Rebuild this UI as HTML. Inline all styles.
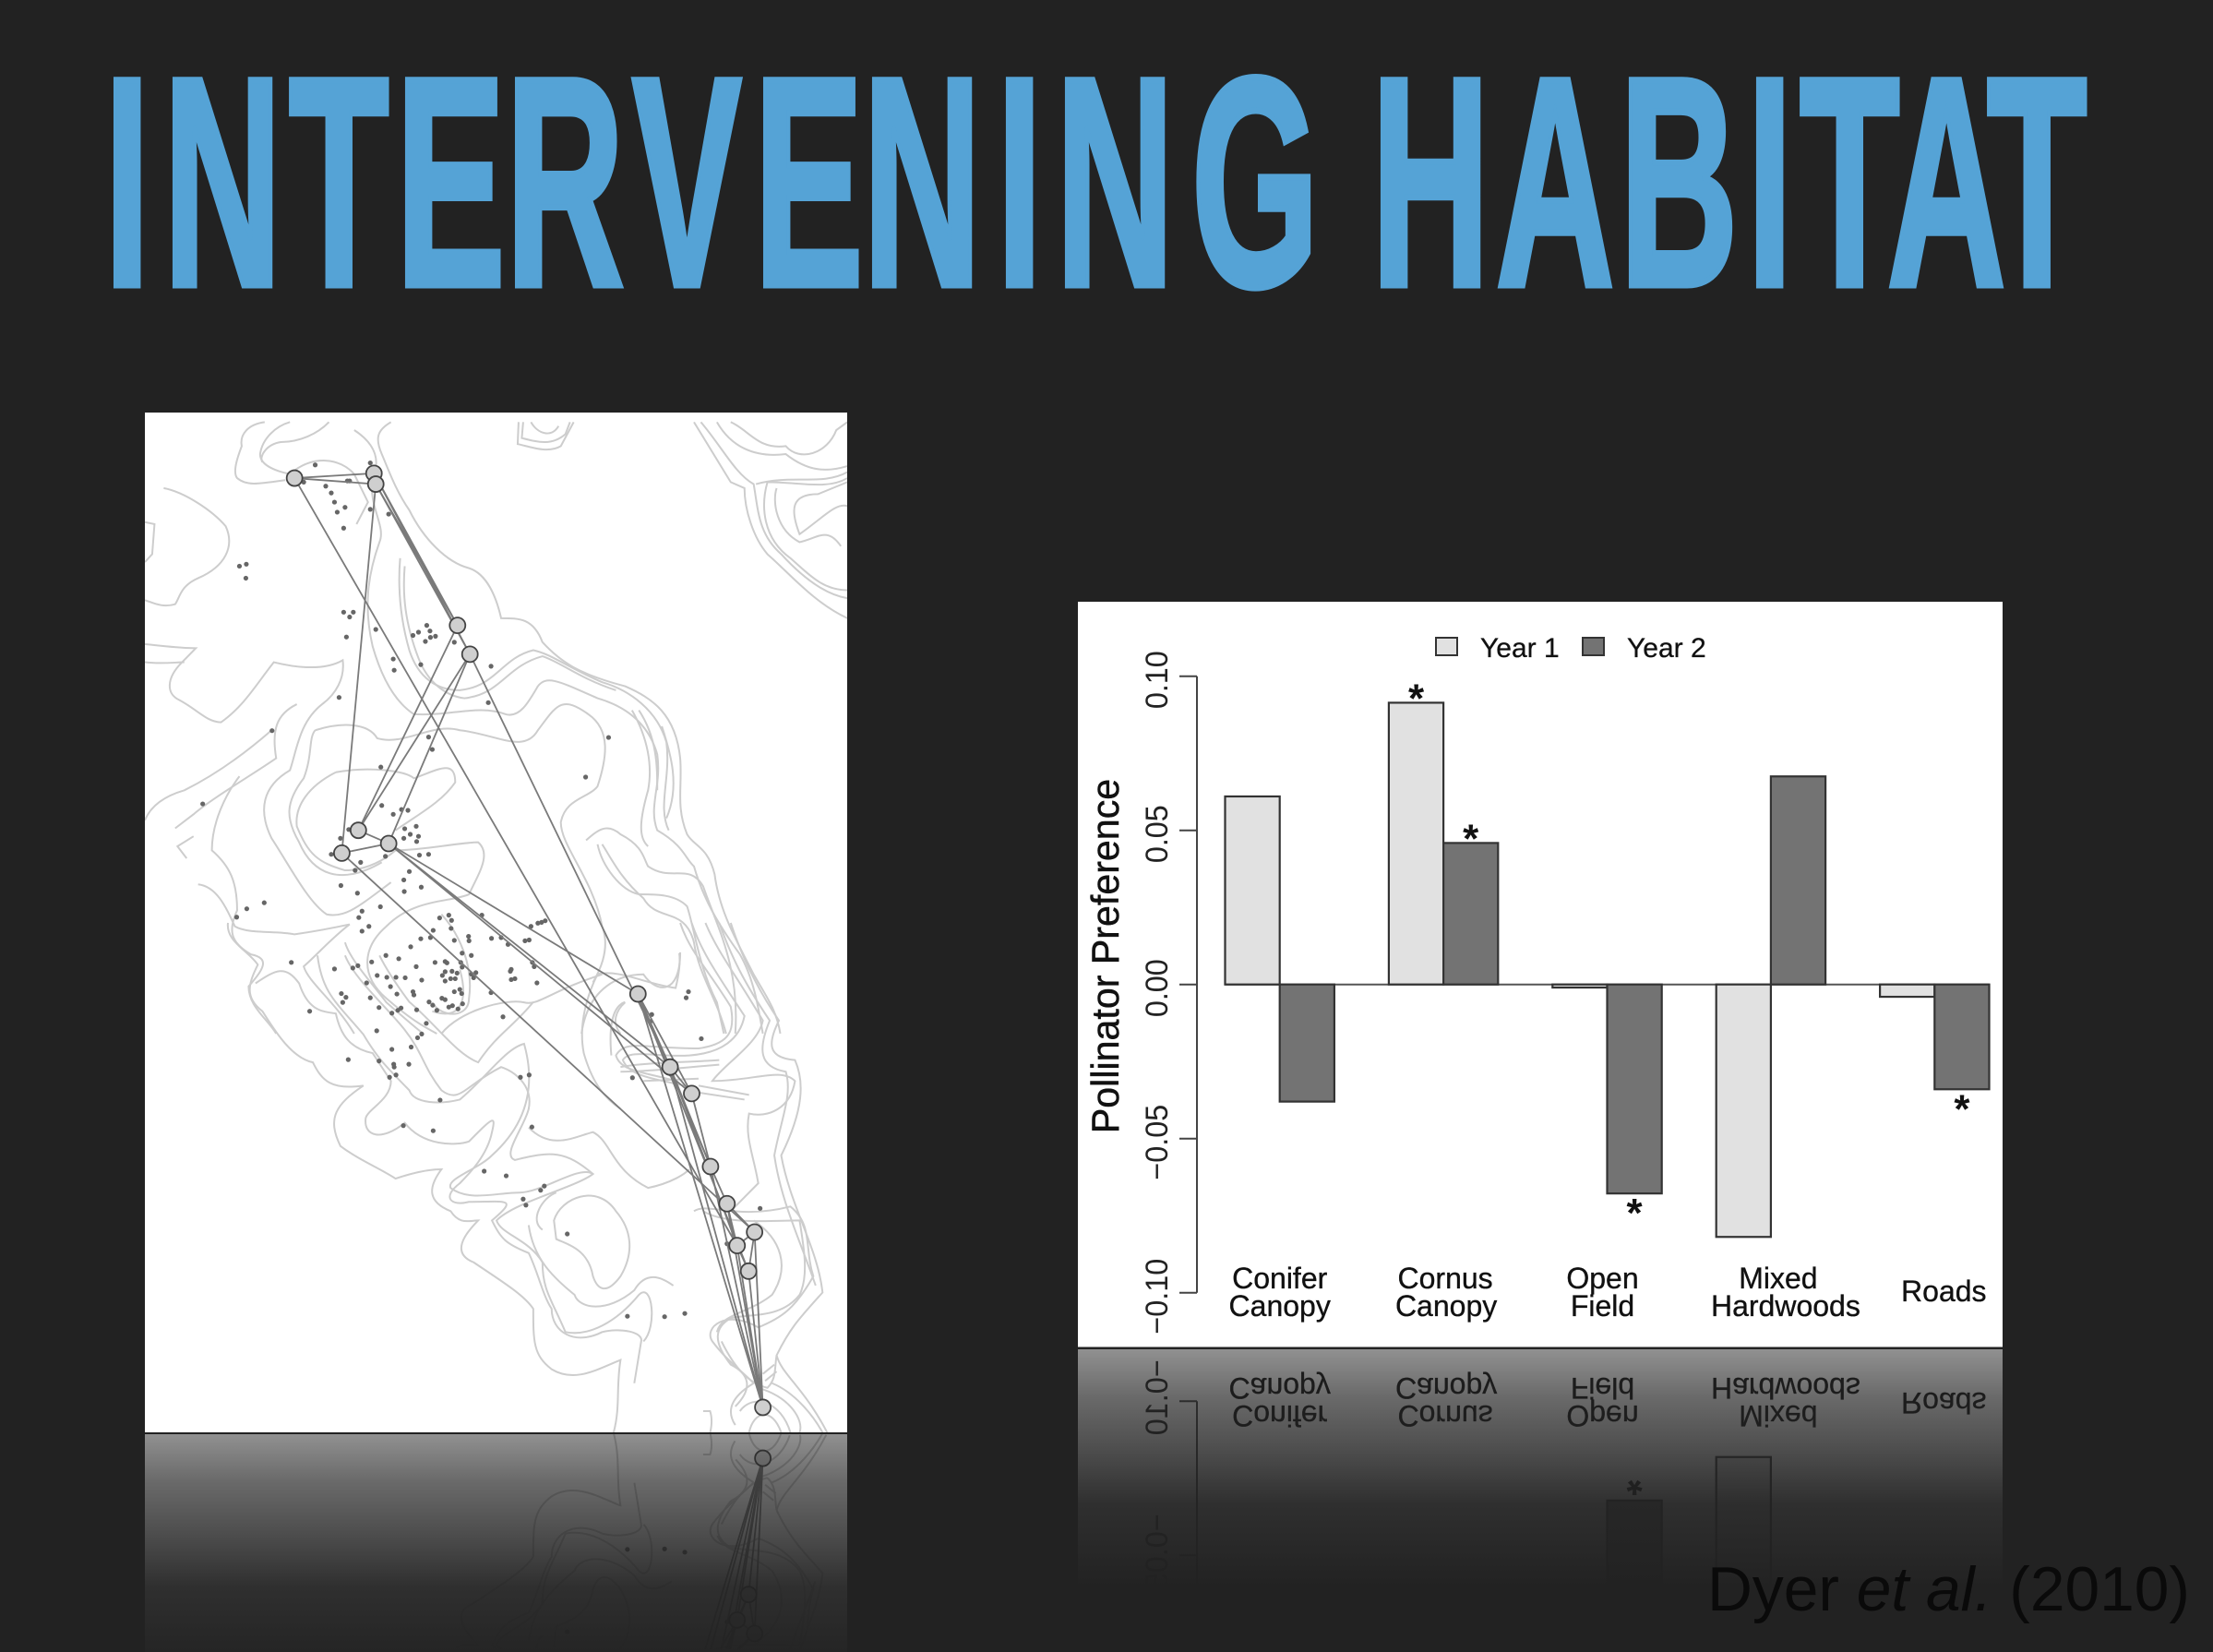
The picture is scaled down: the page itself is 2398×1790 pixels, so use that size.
<!DOCTYPE html>
<html lang="en">
<head>
<meta charset="utf-8">
<title>Intervening Habitat</title>
<style>
html,body{margin:0;padding:0;background:#222222;}
body{width:2398px;height:1790px;overflow:hidden;}
svg{display:block;}
text{font-family:"Liberation Sans",Arial,sans-serif;}
</style>
</head>
<body>
<svg id="slide" xmlns="http://www.w3.org/2000/svg" width="2398" height="1790" viewBox="0 0 2398 1790">
  <defs>
    <linearGradient id="mapFade" gradientUnits="userSpaceOnUse" x1="0" y1="1554" x2="0" y2="1809">
      <stop offset="0" stop-color="#222222" stop-opacity="0.5"/>
      <stop offset="0.2" stop-color="#222222" stop-opacity="0.675"/>
      <stop offset="0.4" stop-color="#222222" stop-opacity="0.79"/>
      <stop offset="0.65" stop-color="#222222" stop-opacity="0.94"/>
      <stop offset="1" stop-color="#222222" stop-opacity="1"/>
    </linearGradient>
    <linearGradient id="chartFade" gradientUnits="userSpaceOnUse" x1="0" y1="1462" x2="0" y2="1720">
      <stop offset="0" stop-color="#222222" stop-opacity="0.5"/>
      <stop offset="0.2" stop-color="#222222" stop-opacity="0.675"/>
      <stop offset="0.4" stop-color="#222222" stop-opacity="0.79"/>
      <stop offset="0.65" stop-color="#222222" stop-opacity="0.94"/>
      <stop offset="1" stop-color="#222222" stop-opacity="1"/>
    </linearGradient>
    <clipPath id="mapClip"><rect x="157" y="447" width="761" height="1105"/></clipPath>
    <clipPath id="mapMirrorClip"><rect x="157" y="1554" width="761" height="236"/></clipPath>
    <clipPath id="chartMirrorClip"><rect x="1168" y="1462" width="1002" height="258"/></clipPath>
  </defs>

  <rect x="0" y="0" width="2398" height="1790" fill="#222222"/>

  <text id="slideTitle" transform="scale(0.55,1)" y="309" font-size="323" font-weight="700" fill="#55a3d6" stroke="#55a3d6" stroke-width="7" stroke-linejoin="miter">INTERVENING HABITAT</text>

  <g>
    <rect x="157" y="447" width="761" height="1105" fill="#ffffff"/>
    <g id="mapMain" clip-path="url(#mapClip)"></g>
  </g>
  <g>
    <rect x="157" y="1554" width="761" height="236" fill="#ffffff"/>
    <g clip-path="url(#mapMirrorClip)"><g id="mapMirror" transform="matrix(1 0 0 -1 0 3105)"></g></g>
    <rect x="157" y="1554" width="761" height="236" fill="url(#mapFade)"/>
  </g>

  <g>
    <rect x="1168" y="652" width="1002" height="807.5" fill="#ffffff"/>
    <g id="chartMain"></g>
  </g>
  <g>
    <rect x="1168" y="1462" width="1002" height="258" fill="#ffffff"/>
    <g clip-path="url(#chartMirrorClip)"><g id="chartMirror" transform="matrix(1 0 0 -1 0 2919)"></g></g>
    <rect x="1168" y="1462" width="1002" height="258" fill="url(#chartFade)"/>
  </g>

  <text x="1850" y="1745" font-size="68" fill="#0a0a0a" textLength="523" lengthAdjust="spacingAndGlyphs">Dyer <tspan font-style="italic">et al.</tspan> (2010)</text>
</svg>

<script>
/* ---------- bar chart data ---------- */
const categoryLines = [["Conifer","Canopy"],["Cornus","Canopy"],["Open","Field"],["Mixed","Hardwoods"],["Roads"]];
const seriesNames = ["Year 1","Year 2"];
const year1Values = [0.061,0.0914,-0.001,-0.0819,-0.004];
const year2Values = [-0.038,0.0459,-0.0678,0.0675,-0.034];
const year1Significant = [false,true,false,false,false];
const year2Significant = [false,true,true,false,true];
const yTickValues = [-0.10,-0.05,0.00,0.05,0.10];
const yTickLabels = ["\u22120.10","\u22120.05","0.00","0.05","0.10"];

/* ---------- map data (survey-sheet coordinates: east, south) ---------- */
const sitesSheetA = [[340,180],[513,168],[517,195],[695,548],[722,620],[479,1060],[545,1093],[443,1117],[1088,1469]];
const sitesSheetB = [[1158,310],[1205,367],[1246,524],[1282,604],[1342,665],[1304,694],[1329,749],[1360,1042]];
const siteLinks = [[0,1],[0,2],[0,14],[2,3],[2,4],[1,3],[1,4],[2,7],[3,5],[4,5],[4,6],[4,9],[5,6],[6,7],[6,8],[6,9],[6,10],[7,13],[8,9],[8,10],[8,11],[8,15],[9,10],[9,11],[9,14],[9,16],[10,11],[11,12],[12,13],[12,14],[13,14],[13,15],[14,15],[15,16],[13,16],[12,16],[14,16],[11,16],[8,16]];
const plantsSheetA = [[385,147],[505,142],[360,190],[455,187],[460,187],[408,200],[420,217],[427,240],[450,253],[433,265],[505,258],[545,270],[447,305],[220,400],[235,395],[234,430],[447,515],[468,515],[460,527],[453,577],[517,558],[598,573],[610,565],[628,548],[635,562],[647,575],[636,578],[625,588],[688,590],[555,632],[557,660],[615,646],[768,650],[437,728],[762,741],[291,811],[632,827],[640,858],[1024,828],[974,927],[528,902],[140,994],[530,998],[573,1008],[587,1010],[555,1020],[605,1050],[580,1056],[592,1070],[578,1080],[610,1075],[606,1088],[440,1080],[458,1058],[420,1120],[538,1125],[612,1122],[632,1120],[484,1140],[472,1160],[590,1163],[578,1184],[616,1202],[441,1198],[579,1213],[477,1217],[527,1251],[274,1241],[236,1256],[214,1277],[487,1262],[480,1278],[502,1300],[487,1312],[656,1279],[676,1272],[682,1285],[681,1305],[642,1310],[615,1331],[636,1328],[688,1335],[719,1325],[720,1336],[769,1330],[842,1336],[851,1334],[593,1351],[748,1272],[855,1300],[870,1292],[886,1286],[878,1290],[790,1328],[805,1345]];
const plantsSheetB = [[333,85],[427,99],[467,97],[478,92],[508,84],[539,70],[567,77],[605,94],[646,85],[668,83],[672,86],[705,65],[725,70],[702,85],[705,95],[812,100],[810,104],[858,85],[862,94],[520,113],[541,117],[561,117],[581,118],[617,123],[662,113],[668,105],[683,104],[694,108],[690,120],[680,120],[668,125],[735,107],[725,110],[730,118],[812,122],[820,120],[868,129],[497,129],[549,137],[563,153],[598,148],[600,155],[442,152],[452,160],[445,171],[505,161],[524,182],[552,194],[565,188],[572,183],[606,187],[633,170],[641,177],[650,188],[661,162],[668,165],[688,148],[700,143],[704,152],[676,181],[684,178],[696,185],[706,174],[768,150],[373,190],[794,202],[627,216],[617,239],[608,247],[519,232],[594,267],[552,272],[457,294],[524,297],[556,304],[557,310],[589,304],[547,332],[561,327],[832,332],[851,327],[657,381],[577,436],[642,447],[857,439],[753,534],[801,544],[876,575],[884,566],[838,594],[844,607],[934,669],[1065,846],[1146,847],[1190,840],[1198,148],[1193,161],[1226,249],[1076,333],[1118,197],[1115,212],[1354,614],[1282,690]];
const contoursSheetA = [
"M275,40 C240,45 220,70 225,100 C215,130 205,165 215,180 C235,200 260,195 320,185",
"M330,40 C300,50 270,80 265,120 C265,145 290,160 330,170 C380,120 440,130 470,170 L500,240 L475,295",
"M415,40 C390,70 350,90 310,90 C280,95 262,125 270,140",
"M550,40 C520,60 515,80 530,120 C545,160 560,210 590,260 C620,330 670,390 720,405 C760,420 780,480 790,530 C830,530 860,530 880,590 C920,640 960,670 1060,700 C1120,730 1170,770 1180,880 C1185,950 1170,1000 1195,1070 C1210,1100 1240,1100 1255,1170 C1265,1260 1300,1330 1340,1420 C1370,1480 1390,1510 1398,1568",
"M470,60 C510,90 530,130 510,180 C500,250 540,300 525,340 C500,420 490,500 510,600 C530,680 560,740 600,770 C680,775 740,745 800,770 C830,780 850,740 870,700 C890,670 920,690 1000,730 C1060,750 1110,790 1130,870 C1140,950 1110,1000 1130,1060 C1190,1100 1190,1130 1210,1150 C1230,1230 1260,1290 1310,1370 C1340,1430 1350,1500 1360,1568",
"M570,380 C565,450 570,530 590,610 C610,680 650,710 700,710 C780,700 790,630 860,610 C900,620 930,650 1010,690 C1070,710 1130,760 1150,840 C1160,930 1130,1000 1155,1060",
"M580,400 C575,470 580,540 610,630 C630,690 670,725 710,730 C790,720 800,650 880,625 C920,640 960,680 1040,710",
"M828,40 L826,95 C850,100 890,120 920,100 L948,40",
"M838,40 L835,80 C870,90 900,100 930,70 L940,40",
"M855,40 C870,70 900,80 915,50",
"M1210,40 L1290,190 L1320,205 C1320,260 1340,330 1370,370 C1420,420 1470,490 1544,530",
"M1225,40 C1270,100 1300,170 1340,195 C1350,260 1350,320 1400,370 C1440,420 1490,470 1544,480",
"M1260,40 C1290,100 1340,130 1410,120 C1460,165 1500,165 1544,150",
"M1290,40 C1330,60 1350,110 1410,100 C1440,140 1500,120 1520,60 L1544,40",
"M1544,180 C1500,210 1440,190 1370,190 C1355,250 1360,330 1420,380 C1460,420 1490,460 1544,460",
"M1544,165 C1490,200 1420,170 1345,195",
"M1544,250 C1520,240 1490,280 1440,320 C1420,260 1420,220 1480,220 L1544,190",
"M1530,350 C1500,300 1480,330 1440,340 C1390,310 1380,240 1390,205",
"M55,205 C100,215 160,260 190,300 C210,350 190,400 130,430 C90,450 90,480 80,495 C50,505 30,490 14,485",
"M14,290 L35,295 L30,370 L14,390",
"M14,595 C60,600 90,605 125,605 L95,640 C60,680 60,720 90,735 C130,760 150,790 180,790 C230,750 260,690 295,640 C330,650 400,665 445,635 C450,680 430,720 400,745 C350,790 345,860 330,910 C270,950 260,1010 290,1080 C330,1150 370,1240 410,1270 C450,1280 480,1250 550,1190",
"M14,640 C50,645 80,640 100,640",
"M345,745 C300,770 290,810 300,880 C250,920 160,980 120,1020 L80,1055",
"M120,1075 L85,1100 L105,1130",
"M14,1035 C30,990 70,970 100,960 C170,920 230,870 290,810",
"M130,1195 C170,1200 190,1250 210,1300 C240,1320 300,1310 340,1320 C400,1310 440,1300 460,1295 C420,1330 390,1370 360,1400 C370,1440 430,1490 470,1568",
"M220,925 C190,970 160,1040 160,1110 C200,1150 215,1190 215,1260 C195,1310 200,1340 245,1370 C290,1380 270,1410 240,1450 C240,1500 280,1530 300,1568",
"M385,810 C440,790 500,790 520,830 C580,850 640,790 700,810 C780,820 840,870 870,810 C910,750 920,720 980,770 C1030,810 1020,880 1000,950 C980,980 930,980 920,1040 C920,1100 990,1180 1010,1300 C1030,1360 1000,1420 990,1440",
"M385,810 C370,830 380,870 360,930 C320,990 320,1030 350,1090 C380,1170 440,1200 530,1140",
"M430,915 C500,900 580,910 600,930 C650,910 690,880 690,940 C660,990 610,1020 560,1060",
"M430,915 C370,950 340,1000 345,1050 C370,1120 390,1140 450,1160 C500,1160 540,1130 560,1110 C620,1110 700,1090 740,1090 C770,1120 740,1170 720,1220 C680,1240 600,1230 540,1300 C490,1350 480,1420 540,1480 C590,1530 620,1550 650,1568",
"M660,1270 C700,1320 730,1400 720,1480 C720,1530 660,1530 640,1490",
"M450,1340 C460,1380 500,1430 540,1490 C570,1520 600,1550 620,1568",
"M1010,1095 C1030,1130 1050,1180 1100,1230 C1130,1290 1190,1250 1210,1340 C1220,1420 1260,1480 1280,1568",
"M975,1085 C1000,1060 1020,1040 1050,1070 C1100,1100 1100,1130 1110,1150 C1160,1190 1200,1140 1230,1200 C1260,1300 1310,1400 1300,1568",
"M1000,1095 C1010,1150 1050,1210 1090,1220 C1130,1220 1170,1220 1195,1250 C1210,1300 1220,1400 1260,1490 L1275,1568",
"M1075,760 C1110,830 1120,900 1110,960 C1090,1040 1090,1080 1110,1100",
"M1090,760 C1130,830 1130,900 1130,960",
"M1140,800 C1160,870 1180,950 1150,1030",
"M965,1568 C980,1450 1050,1420 1100,1420 C1130,1470 1180,1470 1180,1365",
"M1060,1490 C1040,1510 1030,1540 1050,1568",
"M660,1568 C700,1510 800,1480 840,1490 C870,1500 900,1460 1010,1420"
];
const contoursSheetB = [
"M195,0 C190,40 240,60 260,90 C240,130 230,160 270,190 C290,220 330,290 380,300 C400,340 420,360 490,350 C430,390 410,420 440,480 C480,510 530,530 560,550 C590,540 630,530 660,530 C630,570 630,600 680,620 C700,650 720,640 740,640 C710,670 680,710 730,730 C790,770 840,800 860,830 C860,900 860,930 900,960 C950,990 1000,960 1050,940 C1040,1000 1050,1040 1035,1096",
"M255,130 C300,100 320,90 350,130 C370,190 400,190 430,195 C440,240 460,270 510,280 L550,340 C550,380 500,400 495,420 C490,460 530,470 580,430 C620,480 690,480 720,470 C770,420 780,410 770,450 C760,500 720,540 700,560 C660,590 680,610 720,600 C800,600 830,590 770,640 C790,680 800,690 850,710 C870,750 880,800 900,830 C900,880 950,910 1010,880 C1050,870 1100,880 1095,900 L1080,990",
"M390,70 C400,150 430,170 490,240 C520,290 540,310 590,360 C600,390 660,390 700,380 C760,330 800,270 840,260 C860,330 860,420 770,500 C740,530 670,550 680,570 C720,600 780,580 830,580 C880,580 960,520 990,540 C950,570 820,600 780,640 C790,670 850,680 880,730 C880,790 900,810 930,880 C980,890 1040,860 1090,800 C1120,770 1130,870 1100,900",
"M450,70 C470,120 540,180 580,230 C620,280 620,310 660,360 C700,390 710,350 790,310 C820,320 860,350 850,400 C840,440 790,500 820,510 C900,490 930,490 990,540",
"M700,100 C720,170 700,210 640,190",
"M860,170 C820,220 780,240 740,300 C690,280 650,220 590,170 C560,130 540,100 525,70",
"M1000,110 C970,170 960,230 970,280 C990,350 1020,380 1050,400",
"M1000,110 C1050,100 1100,130 1170,140 C1180,100 1180,80 1178,65",
"M1060,170 C1030,180 1025,230 1030,285",
"M850,440 C900,490 950,460 990,450 C1030,470 1030,530 1110,570 C1160,560 1190,540 1200,530",
"M905,640 C920,590 1000,560 1040,620 C1075,660 1080,710 1050,760 C1020,800 1000,790 990,760 C980,700 930,690 910,680 Z",
"M880,660 C850,640 880,590 910,580",
"M850,650 C860,720 900,760 950,800 C960,830 1020,840 1080,790 C1110,740 1150,770 1165,780",
"M1290,0 C1310,60 1340,130 1395,210 C1370,260 1370,290 1430,295 C1450,340 1450,400 1400,500 C1420,610 1480,700 1490,795 C1440,850 1420,870 1390,930 C1400,970 1450,1000 1500,1096",
"M1265,0 C1290,70 1320,130 1375,210 C1350,270 1350,310 1410,320 C1425,370 1400,420 1385,500 C1400,600 1440,680 1475,780",
"M1180,0 C1200,60 1240,100 1290,180 C1300,230 1290,260 1220,270 C1100,270 1060,250 1040,285 C1050,320 1100,320 1170,340",
"M1205,0 C1225,60 1260,110 1320,200 C1310,250 1270,280 1200,285 C1130,290 1070,270 1055,295 C1070,330 1120,335 1190,350",
"M1235,0 C1260,60 1300,110 1360,210 C1350,260 1280,300 1250,340 C1340,340 1400,310 1430,340 C1420,400 1370,420 1330,410 C1320,460 1340,500 1350,560 L1290,620",
"M1210,620 C1240,600 1300,640 1420,610 C1470,650 1450,700 1470,760 C1430,830 1400,850 1350,870 C1280,830 1230,870 1250,900 C1280,940 1310,960 1340,990 C1290,1020 1280,1050 1300,1080",
"M1230,620 C1280,650 1380,640 1440,640 C1450,700 1460,760 1440,800 C1400,850 1340,840 1290,850 C1255,870 1250,900 1290,950 C1330,970 1340,1000 1300,1040",
"M1340,640 C1400,680 1420,740 1380,800 C1330,840 1270,840 1260,880",
"M1270,900 C1300,960 1330,990 1370,1000 C1390,980 1385,960 1390,930",
"M1360,970 L1385,950",
"M1365,985 L1390,965",
"M1230,1050 L1245,1050 C1255,1080 1240,1110 1235,1140",
"M1380,990 C1430,1010 1470,1060 1490,1096",
"M1350,1000 C1420,1020 1450,1070 1440,1096",
"M1310,1050 C1340,1010 1400,1030 1420,1096",
"M1330,1096 C1340,1050 1380,1040 1400,1096",
"M1050,310 C1100,300 1200,300 1265,295",
"M1050,320 C1110,320 1200,310 1265,305",
"M1100,340 L1220,335",
"M1220,350 L1330,370",
"M1220,365 L1320,380"
];

/* ---------- title glyph pen positions ---------- */
const titlePenX = [113,177,313,429,548,685,817,935,1080,1144,1291,1400,1486,1621,1755,1893,1950,2045,2153];
const titleScale = 0.55;
document.getElementById('slideTitle').setAttribute('x', titlePenX.map(function(v){return (v/titleScale).toFixed(1);}).join(' '));

/* ---------- helpers / axes ---------- */
const NS = 'http://www.w3.org/2000/svg';
function make(tag, parent){
  const el = document.createElementNS(NS, tag);
  parent.appendChild(el);
  return el;
}
function yScale(v){ return 1066.7 - v * 3340; }
function groupLeft(i){ return 1327.5 + i * 177.4; }
const barWidth = 59.2;
function xMap(e){ return 150 + e / 2.01; }
function ySheetA(s){ return 440 + s / 2.306; }
function ySheetB(s){ return 1000 + s / 1.985; }

/* ---------- bar chart ---------- */
function drawChart(root){
  const axis = make('line', root);
  
  
  axis.setAttribute('x1', 1297); axis.setAttribute('x2', 1297);
  axis.setAttribute('y1', yScale(0.10)); axis.setAttribute('y2', yScale(-0.10));
  axis.setAttribute('stroke', '#444'); axis.setAttribute('stroke-width', 2);

  yTickValues.forEach(function(v, i){
    const t = make('line', root);
    
    
    t.setAttribute('x1', 1278); t.setAttribute('x2', 1297);
    t.setAttribute('y1', yScale(v)); t.setAttribute('y2', yScale(v));
    t.setAttribute('stroke', '#444'); t.setAttribute('stroke-width', 2);
    const l = make('text', root);
    
    
    l.setAttribute('transform', 'translate(1265,' + (yScale(v) + 4) + ') rotate(-90) scale(0.95,1)');
    l.setAttribute('text-anchor', 'middle');
    l.setAttribute('font-size', 34);
    l.setAttribute('fill', '#222');
    l.textContent = yTickLabels[i];
  });

  const yTitle = make('text', root);
  
  
  yTitle.setAttribute('transform', 'translate(1212,1036) rotate(-90) scale(0.98,1)');
  yTitle.setAttribute('text-anchor', 'middle');
  yTitle.setAttribute('font-size', 42);
  yTitle.setAttribute('fill', '#111');
  yTitle.setAttribute('stroke', '#111');
  yTitle.setAttribute('stroke-width', 0.5);
  yTitle.textContent = 'Pollinator Preference';

  const zero = make('line', root);
  
  
  zero.setAttribute('x1', groupLeft(0)); zero.setAttribute('x2', groupLeft(4) + 2 * barWidth);
  zero.setAttribute('y1', yScale(0)); zero.setAttribute('y2', yScale(0));
  zero.setAttribute('stroke', '#555'); zero.setAttribute('stroke-width', 2);

  categoryLines.forEach(function(lines, i){
    [year1Values[i], year2Values[i]].forEach(function(v, s){
      const left = groupLeft(i) + s * barWidth;
      const top = Math.min(yScale(v), yScale(0));
      const h = Math.abs(yScale(v) - yScale(0));
      const bar = make('rect', root);
      
      
      bar.setAttribute('x', left); bar.setAttribute('y', top);
      bar.setAttribute('width', barWidth); bar.setAttribute('height', h);
      bar.setAttribute('fill', s === 0 ? '#e1e1e1' : '#737373');
      bar.setAttribute('stroke', '#333'); bar.setAttribute('stroke-width', 2.2);
      const sig = s === 0 ? year1Significant[i] : year2Significant[i];
      if (sig) {
        const star = make('text', root);
        
        
        star.setAttribute('x', left + barWidth / 2);
        star.setAttribute('y', yScale(v) + (v >= 0 ? -15 : 11) + 25);
        star.setAttribute('text-anchor', 'middle');
        star.setAttribute('font-size', 44);
        star.setAttribute('font-weight', '700');
        star.setAttribute('fill', '#111');
        star.textContent = '*';
      }
    });
  });

  const labelNudge = [[0, 0], [2, 3], [-5, -5], [8, 16], [10]];
  categoryLines.forEach(function(lines, i){
    const baselines = lines.length === 2 ? [1396, 1426] : [1410];
    lines.forEach(function(txt, j){
      const c = make('text', root);
      
      
      c.setAttribute('x', groupLeft(i) + barWidth + labelNudge[i][j]);
      c.setAttribute('y', baselines[j]);
      c.setAttribute('text-anchor', 'middle');
      c.setAttribute('font-size', 32);
      c.setAttribute('fill', '#111');
      c.setAttribute('stroke', '#111');
      c.setAttribute('stroke-width', 0.35);
      c.textContent = txt;
    });
  });

  const legendX = [1556, 1715];
  seriesNames.forEach(function(name, s){
    const sw = make('rect', root);
    
    
    sw.setAttribute('x', legendX[s]); sw.setAttribute('y', 691);
    sw.setAttribute('width', 23); sw.setAttribute('height', 19);
    sw.setAttribute('fill', s === 0 ? '#e1e1e1' : '#737373');
    sw.setAttribute('stroke', '#333'); sw.setAttribute('stroke-width', 2);
    const lt = make('text', root);
    
    
    lt.setAttribute('x', legendX[s] + 48); lt.setAttribute('y', 712);
    lt.setAttribute('font-size', 30);
    lt.setAttribute('fill', '#111');
    lt.setAttribute('stroke', '#111');
    lt.setAttribute('stroke-width', 0.3);
    lt.textContent = name;
  });
}

/* ---------- map ---------- */
function drawMap(root){
  [[contoursSheetA, 'matrix(0.49751 0 0 0.43365 150 440)'], [contoursSheetB, 'matrix(0.49751 0 0 0.50378 150 1000)']].forEach(function(sheet){
    const g = make('g', root);
    
    
    g.setAttribute('transform', sheet[1]);
    sheet[0].forEach(function(d){
      const p = make('path', g);
      
      
      p.setAttribute('d', d);
      p.setAttribute('fill', 'none');
      p.setAttribute('stroke', '#cdcdcd');
      p.setAttribute('stroke-width', 2);
      p.setAttribute('vector-effect', 'non-scaling-stroke');
    });
  });

  function drawPlant(x, y){
    const c = make('circle', root);
    
    
    c.setAttribute('cx', x); c.setAttribute('cy', y);
    c.setAttribute('r', 2.6);
    c.setAttribute('fill', '#666');
  }
  plantsSheetA.forEach(function(p){ drawPlant(xMap(p[0]), ySheetA(p[1])); });
  plantsSheetB.forEach(function(p){ drawPlant(xMap(p[0]), ySheetB(p[1])); });

  const sites = sitesSheetA.map(function(p){ return [xMap(p[0]), ySheetA(p[1])]; })
    .concat(sitesSheetB.map(function(p){ return [xMap(p[0]), ySheetB(p[1])]; }));

  siteLinks.forEach(function(k){
    const l = make('line', root);
    
    
    l.setAttribute('x1', sites[k[0]][0]); l.setAttribute('y1', sites[k[0]][1]);
    l.setAttribute('x2', sites[k[1]][0]); l.setAttribute('y2', sites[k[1]][1]);
    l.setAttribute('stroke', '#7a7a7a');
    l.setAttribute('stroke-width', 1.8);
  });
  sites.forEach(function(s){
    const c = make('circle', root);
    
    
    c.setAttribute('cx', s[0]); c.setAttribute('cy', s[1]);
    c.setAttribute('r', 8.5);
    c.setAttribute('fill', '#cfcfcf');
    c.setAttribute('stroke', '#444');
    c.setAttribute('stroke-width', 1.8);
  });
}

/* Reflections keep only the marks that fall inside the visible window,
   so nothing extends past the bottom of the slide. */
function trimMirror(root, mirrorAxis, maxScreenY){
  const limit = mirrorAxis - maxScreenY;
  root.querySelectorAll('path').forEach(function(p){
    const m = p.getScreenCTM();
    const len = p.getTotalLength();
    let d = '';
    let pen = false;
    for (let s = 0; s <= len; s += 5) {
      const q = p.getPointAtLength(s);
      const sy = m.b * q.x + m.d * q.y + m.f;
      if (sy <= maxScreenY) {
        d += (pen ? 'L' : 'M') + q.x.toFixed(1) + ',' + q.y.toFixed(1);
        pen = true;
      } else {
        pen = false;
      }
    }
    if (d) { p.setAttribute('d', d); } else { p.remove(); }
  });
  root.querySelectorAll('line').forEach(function(l){
    let x1 = +l.getAttribute('x1'), y1 = +l.getAttribute('y1');
    let x2 = +l.getAttribute('x2'), y2 = +l.getAttribute('y2');
    if (y1 < limit && y2 < limit) { l.remove(); return; }
    if (y1 < limit) { x1 = x1 + (x2 - x1) * (limit - y1) / (y2 - y1); y1 = limit; }
    if (y2 < limit) { x2 = x2 + (x1 - x2) * (limit - y2) / (y1 - y2); y2 = limit; }
    l.setAttribute('x1', x1); l.setAttribute('y1', y1);
    l.setAttribute('x2', x2); l.setAttribute('y2', y2);
  });
  root.querySelectorAll('circle').forEach(function(c){
    if (+c.getAttribute('cy') - +c.getAttribute('r') - 1.5 < limit) { c.remove(); }
  });
  root.querySelectorAll('rect').forEach(function(r){
    const y = +r.getAttribute('y');
    const bottom = y + +r.getAttribute('height');
    if (bottom < limit) { r.remove(); return; }
    if (y < limit) { r.setAttribute('y', limit); r.setAttribute('height', bottom - limit); }
  });
  root.querySelectorAll('text').forEach(function(t){
    if (t.getBoundingClientRect().bottom > maxScreenY) { t.remove(); }
  });
}

drawMap(document.getElementById('mapMain'));
drawMap(document.getElementById('mapMirror'));
drawChart(document.getElementById('chartMain'));
drawChart(document.getElementById('chartMirror'));
trimMirror(document.getElementById('mapMirror'), 3105, 1787);
trimMirror(document.getElementById('chartMirror'), 2919, 1760);
</script>
</body>
</html>
